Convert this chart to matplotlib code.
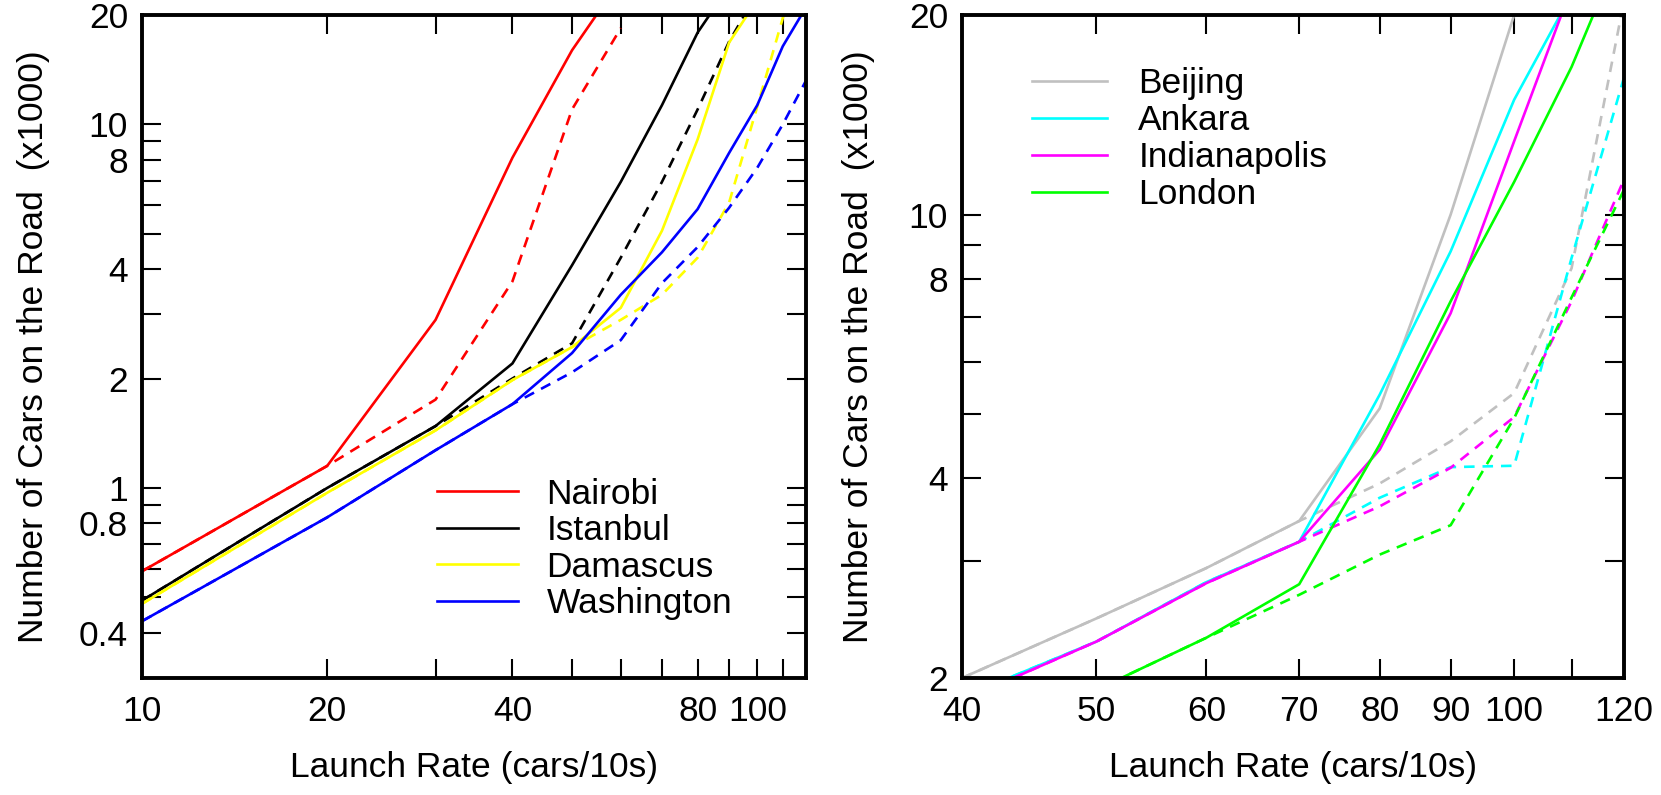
import matplotlib
matplotlib.use('Agg')
import matplotlib.pyplot as plt
from matplotlib.ticker import FixedLocator, FixedFormatter, NullFormatter

plt.rcParams['font.family'] = ['Liberation Sans Narrow', 'Liberation Sans', 'DejaVu Sans']

# ---- left panel data (cars on the road, x1000) ----
rate_left = [10, 20, 30, 40, 50, 60, 70, 80, 90, 100, 110, 120]

nairobi = [0.59, 1.15, 2.9, 8.1, 16, 25]
nairobi_dash = [0.59, 1.15, 1.75, 3.7, 11, 18.4]
istanbul = [0.49, 1.0, 1.48, 2.2, 4.1, 6.95, 11.3, 17.9, 24]
istanbul_dash = [0.49, 1.0, 1.48, 2.0, 2.5, 4.3, 6.95, 11, 16.9, 23]
damascus = [0.48, 0.97, 1.44, 1.98, 2.44, 3.13, 5.1, 9.1, 16.8, 22]
damascus_dash = [0.48, 0.97, 1.44, 1.98, 2.44, 2.9, 3.4, 4.3, 6.1, 11.2, 19.6, 30]
washington = [0.43, 0.83, 1.27, 1.70, 2.35, 3.4, 4.45, 5.85, 8.35, 11.3, 16.4, 21]
washington_dash = [0.43, 0.83, 1.27, 1.70, 2.08, 2.55, 3.66, 4.6, 5.9, 7.6, 10, 13.2]

# ---- right panel data ----
rate_right = [40, 50, 60, 70, 80, 90, 100, 110, 120]

beijing = [2.0, 2.46, 2.93, 3.45, 5.1, 10.0, 20.0, 40]
beijing_dash = [2.0, 2.46, 2.93, 3.45, 3.93, 4.55, 5.38, 8.3, 21]
ankara = [1.87, 2.27, 2.79, 3.21, 5.35, 8.8, 14.9, 21.5]
ankara_dash = [1.87, 2.27, 2.79, 3.21, 3.74, 4.16, 4.18, 8.6, 16.1]
indianapolis = [1.85, 2.27, 2.78, 3.21, 4.42, 7.1, 12.9, 22]
indianapolis_dash = [1.85, 2.27, 2.78, 3.21, 3.63, 4.15, 4.95, 7.4, 11.3]
london = [1.55, 1.92, 2.30, 2.77, 4.5, 7.4, 11.2, 16.7, 25.8]
london_dash = [1.55, 1.92, 2.30, 2.67, 3.07, 3.4, 4.93, 7.5, 10.9]

left_series = [('Nairobi', nairobi, nairobi_dash, '#ff0000'),
               ('Istanbul', istanbul, istanbul_dash, '#000000'),
               ('Damascus', damascus, damascus_dash, '#ffff00'),
               ('Washington', washington, washington_dash, '#0000ff')]
right_series = [('Beijing', beijing, beijing_dash, '#c0c0c0'),
                ('Ankara', ankara, ankara_dash, '#00ffff'),
                ('Indianapolis', indianapolis, indianapolis_dash, '#ff00ff'),
                ('London', london, london_dash, '#00ff00')]

FS = 25.5
LW = 1.9
DASH = (0, (4, 3))


def style_axis(ax, xmaj, xlab, xmin, ymaj, ylab, ymin):
    ax.set_xscale('log')
    ax.set_yscale('log')
    ax.xaxis.set_major_locator(FixedLocator(xmaj))
    ax.xaxis.set_major_formatter(FixedFormatter(xlab))
    ax.xaxis.set_minor_locator(FixedLocator(xmin))
    ax.xaxis.set_minor_formatter(NullFormatter())
    ax.yaxis.set_major_locator(FixedLocator(ymaj))
    ax.yaxis.set_major_formatter(FixedFormatter(ylab))
    ax.yaxis.set_minor_locator(FixedLocator(ymin))
    ax.yaxis.set_minor_formatter(NullFormatter())
    ax.tick_params(which='both', direction='in', top=True, right=True,
                   length=14, width=1.5, labelsize=FS)
    ax.tick_params(axis='x', which='both', pad=12)
    ax.tick_params(axis='y', which='both', pad=10)
    for s in ax.spines.values():
        s.set_linewidth(2.8)
    ax.set_xlabel('Launch Rate (cars/10s)', fontsize=FS)
    ax.set_ylabel('Number of Cars on the Road  (x1000)', fontsize=FS)


fig = plt.figure(figsize=(16.61, 7.95), dpi=100)
ax1 = fig.add_axes([142 / 1661, 117 / 795, 664 / 1661, 663 / 795])
ax2 = fig.add_axes([962 / 1661, 117 / 795, 662 / 1661, 663 / 795])

handles = []
for name, solid, dash, col in left_series:
    h, = ax1.plot(rate_left[:len(solid)], solid, color=col, lw=LW, label=name)
    ax1.plot(rate_left[:len(dash)], dash, color=col, lw=LW, linestyle=DASH)
    handles.append(h)
ax1.set_xlim(10, 120)
ax1.set_ylim(0.3, 20)
style_axis(ax1, [10, 20, 40, 80, 100], ['10', '20', '40', '80', '100'],
           [30, 50, 60, 70, 90, 110],
           [0.4, 0.8, 1, 2, 4, 8, 10, 20], ['0.4', '0.8', '1', '2', '4', '8', '10', '20'],
           [0.5, 0.6, 0.7, 0.9, 3, 5, 6, 7, 9])
ax1.legend(handles=handles, loc='upper left', bbox_to_anchor=(0.444, 0.302),
           frameon=False, fontsize=FS, handlelength=2.3, handletextpad=0.8,
           labelspacing=0.1, borderpad=0, borderaxespad=0)

handles = []
for name, solid, dash, col in right_series:
    h, = ax2.plot(rate_right[:len(solid)], solid, color=col, lw=LW, label=name)
    ax2.plot(rate_right[:len(dash)], dash, color=col, lw=LW, linestyle=DASH)
    handles.append(h)
ax2.set_xlim(40, 120)
ax2.set_ylim(2, 20)
style_axis(ax2, [40, 50, 60, 70, 80, 90, 100, 120],
           ['40', '50', '60', '70', '80', '90', '100', '120'], [110],
           [2, 4, 8, 10, 20], ['2', '4', '8', '10', '20'], [3, 5, 6, 7, 9])
ax2.legend(handles=handles, loc='upper left', bbox_to_anchor=(0.106, 0.921),
           frameon=False, fontsize=FS, handlelength=2.1, handletextpad=0.9,
           labelspacing=0.11, borderpad=0, borderaxespad=0)

ax1.yaxis.set_label_coords(-0.138, 0.5)
ax2.yaxis.set_label_coords(-0.131, 0.5)
ax1.xaxis.set_label_coords(0.5, -0.11)
ax2.xaxis.set_label_coords(0.5, -0.11)

fig.savefig('out.png', dpi=100)
